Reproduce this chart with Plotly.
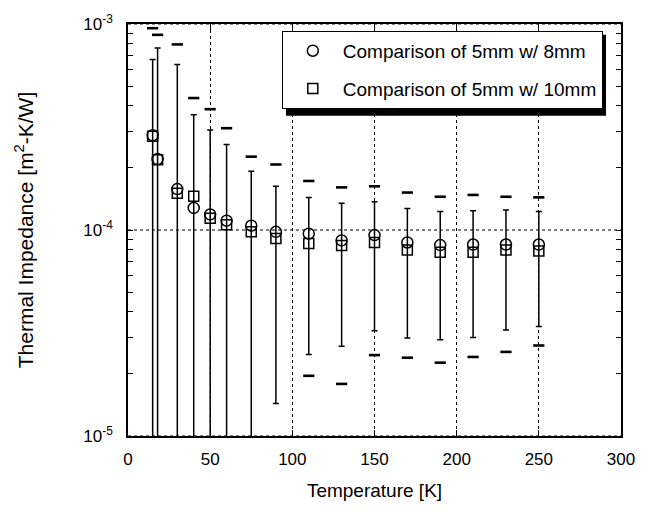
import plotly.graph_objects as go

# ---- data ----
temperature = [15, 18, 30, 40, 50, 60, 75, 90, 110, 130, 150, 170, 190, 210, 230, 250]

imp_8mm = [2.88e-4, 2.21e-4, 1.58e-4, 1.28e-4, 1.19e-4, 1.11e-4, 1.05e-4, 9.8e-5,
           9.6e-5, 8.9e-5, 9.45e-5, 8.7e-5, 8.45e-5, 8.5e-5, 8.5e-5, 8.5e-5]
hi_8mm = [9.54e-4, 8.86e-4, 7.96e-4, 4.37e-4, 3.86e-4, 3.12e-4, 2.27e-4, 2.08e-4,
          1.73e-4, 1.61e-4, 1.63e-4, 1.52e-4, 1.45e-4, 1.48e-4, 1.45e-4, 1.44e-4]
lo_8mm = [None, None, None, None, None, None, None, None,
          1.96e-5, 1.79e-5, 2.47e-5, 2.40e-5, 2.27e-5, 2.42e-5, 2.56e-5, 2.75e-5]

imp_10mm = [2.85e-4, 2.19e-4, 1.51e-4, 1.46e-4, 1.14e-4, 1.06e-4, 9.8e-5, 9.1e-5,
            8.6e-5, 8.4e-5, 8.7e-5, 8.0e-5, 7.8e-5, 7.8e-5, 8.0e-5, 7.9e-5]
hi_10mm = [6.73e-4, 7.65e-4, 6.36e-4, 3.63e-4, 3.06e-4, 2.60e-4, 1.93e-4, 1.63e-4,
           1.44e-4, 1.35e-4, 1.37e-4, 1.27e-4, 1.23e-4, 1.24e-4, 1.25e-4, 1.23e-4]
lo_10mm = [0, 0, 0, 0, 0, 0, 0, 1.44e-5,
           2.49e-5, 2.73e-5, 3.24e-5, 2.99e-5, 2.93e-5, 3.01e-5, 3.27e-5, 3.40e-5]

label_8mm = "Comparison of 5mm w/ 8mm"
label_10mm = "Comparison of 5mm w/ 10mm"

# y-axis ticks: labelled decades plus unlabelled 2..9 minor positions
decade_exps = [-5, -4, -3]
decade_vals = [10.0 ** e for e in decade_exps]
decade_text = ["10<sup>%d</sup>" % e for e in decade_exps]
minor_vals = [m * 10.0 ** e for e in (-5, -4) for m in range(2, 10)]
ytick_vals = decade_vals + minor_vals
ytick_text = decade_text + [""] * len(minor_vals)

FONT = "Liberation Sans, Arial, Helvetica, sans-serif"

err_up_10 = [h - v for h, v in zip(hi_10mm, imp_10mm)]
err_dn_10 = [v - l for v, l in zip(imp_10mm, lo_10mm)]

fig = go.Figure()

# dotted horizontal grid at the decades
for dv in decade_vals:
    fig.add_hline(y=dv, line=dict(color="black", width=1, dash="dot"), layer="below")

# caps (dashes) of the 8 mm comparison
caps_x = temperature + temperature
caps_y = hi_8mm + lo_8mm
fig.add_trace(go.Scatter(
    x=caps_x, y=caps_y, mode="markers", showlegend=False, hoverinfo="skip",
    marker=dict(symbol="line-ew", size=8, line=dict(color="black", width=2.6)),
))

fig.add_trace(go.Scatter(
    x=temperature, y=imp_8mm, mode="markers", name=label_8mm, legendgroup="a",
    marker=dict(symbol="circle-open", size=11, color="black", line=dict(color="black", width=1.5)),
))

fig.add_trace(go.Scatter(
    x=temperature, y=imp_10mm, mode="markers", name=label_10mm, legendgroup="b",
    marker=dict(symbol="square-open", size=10, color="black", line=dict(color="black", width=1.5)),
    error_y=dict(type="data", array=err_up_10, arrayminus=err_dn_10, symmetric=False,
                 color="black", thickness=1.5, width=3),
))

# legend drop shadow (paper coordinates, purely decorative)
fig.add_shape(type="rect", xref="paper", yref="paper",
              x0=0.3205, x1=0.9696, y0=0.7775, y1=0.974,
              fillcolor="black", line=dict(width=0), layer="above")

fig.update_layout(
    width=650, height=510,
    margin=dict(l=128, r=29, t=20, b=72),
    paper_bgcolor="white", plot_bgcolor="white",
    font=dict(family=FONT, size=17, color="black"),
    showlegend=True,
    legend=dict(
        x=0.312, y=0.9833, xanchor="left", yanchor="top",
        bgcolor="white", bordercolor="black", borderwidth=1,
        font=dict(family=FONT, size=19, color="black"),
        tracegroupgap=10, itemwidth=50,
    ),
)

fig.update_xaxes(
    range=[0, 300], dtick=50, tick0=0,
    showline=True, linecolor="black", linewidth=1.5, mirror="allticks",
    ticks="inside", ticklen=6, tickcolor="black", tickwidth=1.2,
    showgrid=True, gridcolor="black", griddash="dot", gridwidth=1,
    zeroline=False,
    tickfont=dict(family=FONT, size=17),
    ticklabelstandoff=7,
    title=dict(text="Temperature [K]", font=dict(family=FONT, size=19), standoff=16),
)

fig.update_yaxes(
    type="log", range=[-5, -3],
    tickmode="array", tickvals=ytick_vals, ticktext=ytick_text,
    showline=True, linecolor="black", linewidth=1.5, mirror="allticks",
    ticks="inside", ticklen=5, tickcolor="black", tickwidth=1.2,
    showgrid=False, zeroline=False,
    tickfont=dict(family=FONT, size=17),
    ticklabelstandoff=10,
    title=dict(text="Thermal Impedance [m<sup>2</sup>-K/W]",
               font=dict(family=FONT, size=21), standoff=44),
)

fig.write_html("out.html", post_script="document.body.style.margin='0px';",
               config={"displayModeBar": False})
